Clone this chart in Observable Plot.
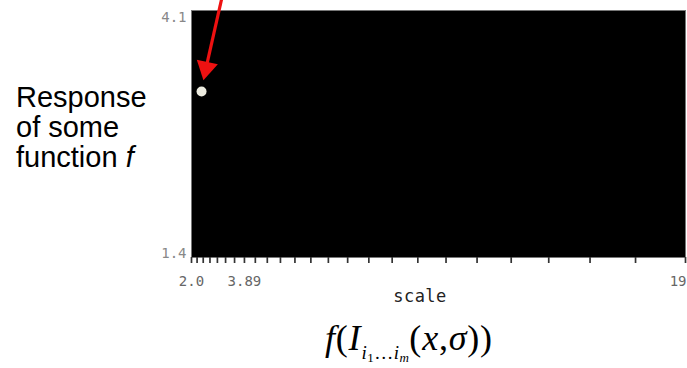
<!DOCTYPE html>
<html>
<head>
<meta charset="utf-8">
<script src="https://cdn.jsdelivr.net/npm/d3@7"></script>
<script src="https://cdn.jsdelivr.net/npm/@observablehq/plot@0.6"></script>
<style>
  html, body { margin: 0; padding: 0; background: #fff; }
  #wrap { position: relative; width: 687px; height: 368px; overflow: hidden; }
  #wrap svg { position: absolute; left: 0; top: 0; }
  .side { position: absolute; left: 16px; top: 82px; font-family: "Liberation Sans", Arial, sans-serif; font-size: 29px; line-height: 30px; color: #000; }
  .xlab { position: absolute; left: 390px; top: 286px; width: 60px; text-align: center; font-family: "DejaVu Sans Mono", monospace; font-size: 17px; color: #222; letter-spacing: 0.5px; }
  .formula { position: absolute; left: 325px; top: 320px; font-family: "Liberation Serif", "Times New Roman", serif; font-size: 36px; line-height: 36px; color: #000; white-space: nowrap; letter-spacing: 0.8px; }
  .formula i { font-style: italic; }
  .sub { font-size: 19px; position: relative; top: 9px; letter-spacing: 0.5px; }
  .sub2 { font-size: 13px; position: relative; top: 3px; }
</style>
</head>
<body>
<div id="wrap"></div>
<script>
// x axis: scale samples (ticks), label values and texts
const xDomain = [2.0, 19.7];
const xTicks = [2.0, 2.2, 2.42, 2.662, 2.928, 3.221, 3.543, 3.897, 4.287, 4.716, 5.187, 5.706,
  6.277, 6.904, 7.595, 8.354, 9.19, 10.109, 11.12, 12.232, 13.455, 14.80, 16.28, 17.91, 19.70];
const xLabelValues = [2.0, 3.897];
const xLabelTexts = ["2.0", "3.89"];
const xEndLabelValues = [19.70];
const xEndLabelTexts = ["19"];
// y axis
const yDomain = [1.4, 4.1];
const yTopLabelValues = [4.1];
const yTopLabelTexts = ["4.1"];
const yBottomLabelValues = [1.4];
const yBottomLabelTexts = ["1.4"];
// response point
const pointScale = [2.36];
const pointResponse = [3.215];
// arrow pointing to the response (shaft and head)
const arrowFromX = [3.09];
const arrowFromY = [4.24];
const arrowHeadX = [2.52];
const arrowHeadY = [3.47];

const pts = pointScale.map((s, i) => ({x: s, y: pointResponse[i]}));
const arrows = arrowFromX.map((x1, i) => ({x1, y1: arrowFromY[i], x2: arrowHeadX[i], y2: arrowHeadY[i]}));
const heads = arrowHeadX.map((x, i) => ({x, y: arrowHeadY[i]}));
const xLabs = xLabelValues.map((v, i) => ({v, t: xLabelTexts[i]}));
const xEndLabs = xEndLabelValues.map((v, i) => ({v, t: xEndLabelTexts[i]}));
const yTopLabs = yTopLabelValues.map((v, i) => ({v, t: yTopLabelTexts[i]}));
const yBotLabs = yBottomLabelValues.map((v, i) => ({v, t: yBottomLabelTexts[i]}));

const labelFont = {fontFamily: "DejaVu Sans Mono, monospace", fontSize: 14, fill: "#666"};

const chart = Plot.plot({
  width: 687,
  height: 368,
  marginLeft: 191,
  marginRight: 2,
  marginTop: 10,
  marginBottom: 111,
  x: {domain: xDomain, axis: null},
  y: {domain: yDomain, axis: null},
  style: {background: "transparent"},
  marks: [
    Plot.frame({fill: "#000", stroke: "#777", strokeWidth: 1}),
    Plot.axisX({ticks: xTicks, tickSize: 6, tickFormat: () => "", stroke: "#333", strokeWidth: 1.7, anchor: "bottom"}),
    Plot.text(xLabs, {x: "v", y: yDomain[0], text: "t", dy: 24, textAnchor: "middle", ...labelFont}),
    Plot.text(xEndLabs, {x: "v", y: yDomain[0], text: "t", dy: 24, dx: 1, textAnchor: "end", ...labelFont}),
    Plot.text(yTopLabs, {x: xDomain[0], y: "v", text: "t", dx: -5, dy: 7, textAnchor: "end", ...labelFont, fill: "#888"}),
    Plot.text(yBotLabs, {x: xDomain[0], y: "v", text: "t", dx: -5, dy: -4, textAnchor: "end", ...labelFont, fill: "#888"}),
    Plot.dot(pts, {x: "x", y: "y", r: 5, fill: "#ecebdf", stroke: "none"}),
    Plot.link(arrows, {x1: "x1", y1: "y1", x2: "x2", y2: "y2", stroke: "#ee1111", strokeWidth: 3.2}),
    Plot.dot(heads, {x: "x", y: "y", symbol: "triangle", r: 8, fill: "#ee1111", stroke: "none", rotate: 192})
  ]
});
const wrap = document.getElementById("wrap");
wrap.appendChild(chart);

const side = document.createElement("div");
side.className = "side";
side.innerHTML = "Response<br>of some<br>function <i>f</i>";
wrap.appendChild(side);

const xl = document.createElement("div");
xl.className = "xlab";
xl.textContent = "scale";
wrap.appendChild(xl);

const f = document.createElement("div");
f.className = "formula";
f.innerHTML = '<i>f</i>(<i>I</i><span class="sub"><i>i</i><span class="sub2">1</span>…<i>i</i><span class="sub2"><i>m</i></span></span>(<i>x</i>,<i>σ</i>))';
wrap.appendChild(f);
</script>
</body>
</html>
